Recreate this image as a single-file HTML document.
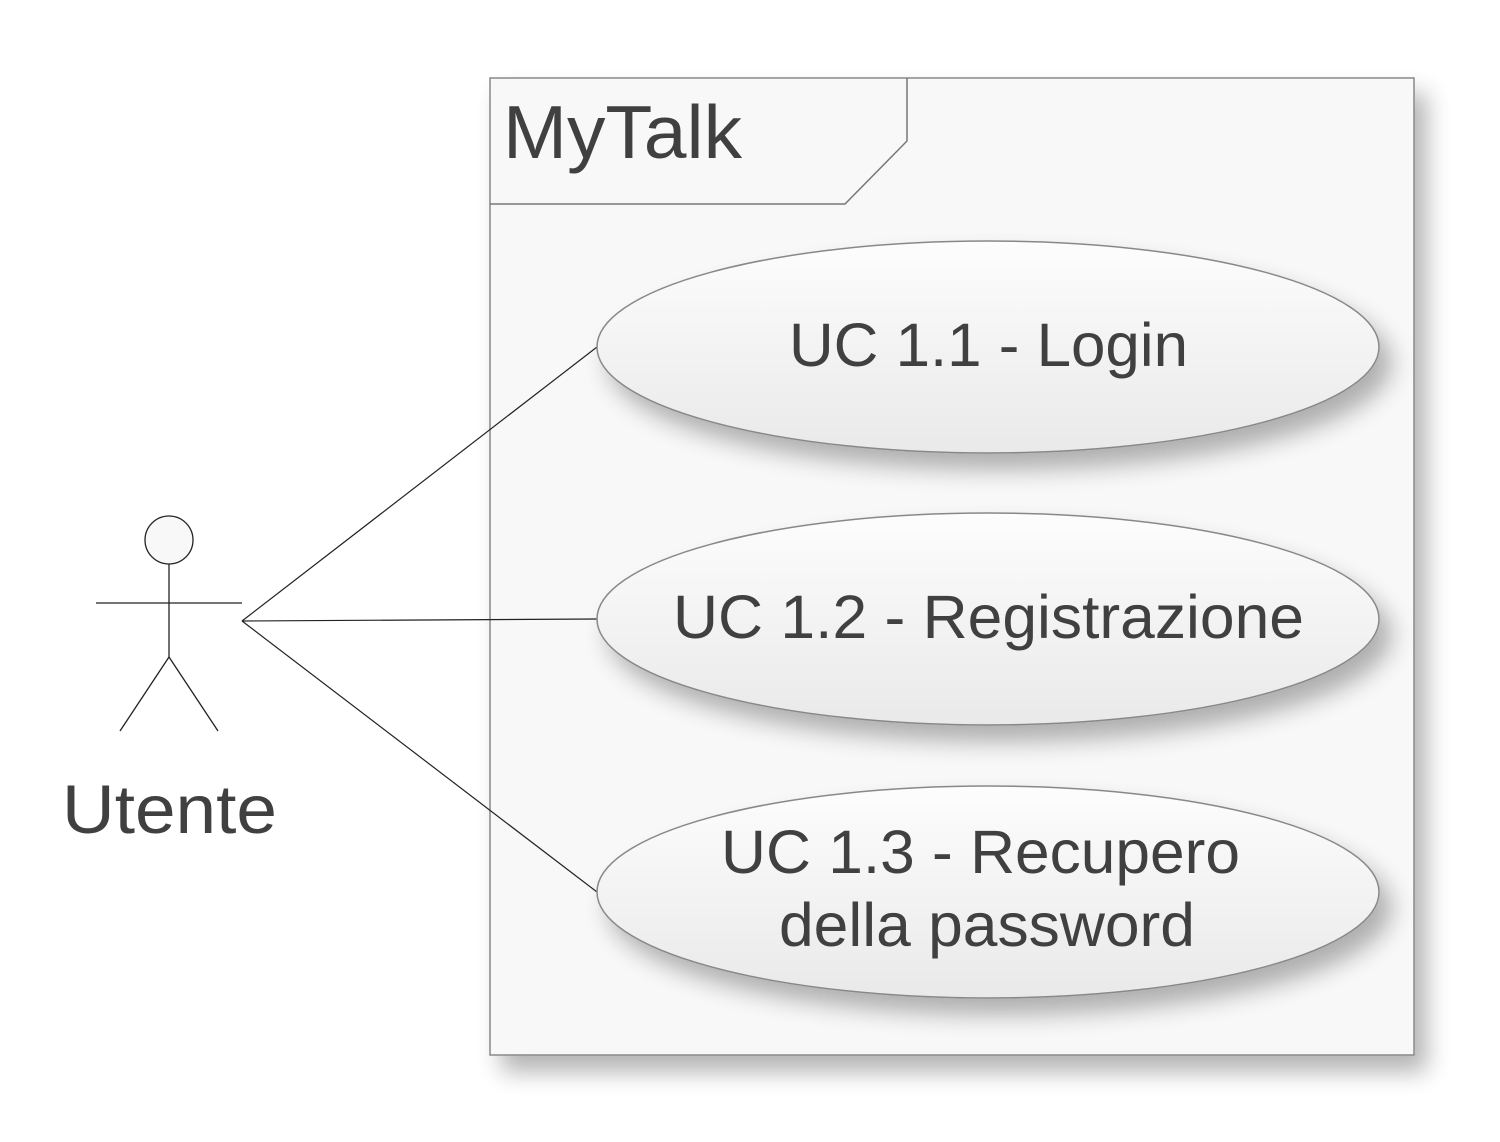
<!DOCTYPE html>
<html><head><meta charset="utf-8">
<style>html,body{margin:0;padding:0;background:#fff;}svg{display:block;}</style>
</head><body>
<svg width="1500" height="1142" viewBox="0 0 1500 1142" xmlns="http://www.w3.org/2000/svg" font-family="Liberation Sans, Arial, sans-serif">
<defs>
<filter id="sh" x="-10%" y="-10%" width="130%" height="130%">
<feGaussianBlur in="SourceAlpha" stdDeviation="12"/>
<feOffset dx="12" dy="16" result="b"/>
<feComponentTransfer><feFuncA type="linear" slope="0.3"/></feComponentTransfer>
<feMerge><feMergeNode/><feMergeNode in="SourceGraphic"/></feMerge>
</filter>
<linearGradient id="eg" x1="0" y1="0" x2="0" y2="1">
<stop offset="0" stop-color="#fdfdfd"/><stop offset="1" stop-color="#e9e9e9"/>
</linearGradient>
</defs>
<rect x="490" y="78" width="924" height="977" fill="#f8f8f8" stroke="#888" stroke-width="1.5" filter="url(#sh)"/>
<path d="M490 204 L845 204 L907 141 L907 78" fill="none" stroke="#777" stroke-width="1.5"/>
<text x="503" y="158" font-size="75" fill="#404040" textLength="239" lengthAdjust="spacingAndGlyphs">MyTalk</text>

<g stroke="#222" stroke-width="1.2" fill="none">
<line x1="242" y1="621" x2="597" y2="347"/>
<line x1="242" y1="621" x2="597" y2="619"/>
<line x1="242" y1="621" x2="597" y2="892"/>
</g>

<g filter="url(#sh)" fill="url(#eg)" stroke="#888" stroke-width="1.5">
<ellipse cx="988" cy="347" rx="391" ry="106"/>
<ellipse cx="988" cy="619" rx="391" ry="106"/>
<ellipse cx="988" cy="892" rx="391" ry="106"/>
</g>
<g font-size="61" fill="#404040" lengthAdjust="spacingAndGlyphs">
<text x="789" y="366" textLength="399" lengthAdjust="spacingAndGlyphs">UC 1.1 - Login</text>
<text x="673" y="638" textLength="631" lengthAdjust="spacingAndGlyphs">UC 1.2 - Registrazione</text>
<text x="721" y="873" textLength="519" lengthAdjust="spacingAndGlyphs">UC 1.3 - Recupero</text>
<text x="779" y="946" textLength="416" lengthAdjust="spacingAndGlyphs">della password</text>
</g>

<g stroke="#222" stroke-width="1.3" fill="none">
<circle cx="169" cy="540" r="24" fill="#f8f8f8"/>
<line x1="169" y1="564" x2="169" y2="657"/>
<line x1="96" y1="603" x2="242" y2="603"/>
<line x1="169" y1="657" x2="120" y2="731"/>
<line x1="169" y1="657" x2="218" y2="731"/>
</g>
<text x="62" y="833" font-size="69" fill="#404040" textLength="215" lengthAdjust="spacingAndGlyphs">Utente</text>
</svg>
</body></html>
